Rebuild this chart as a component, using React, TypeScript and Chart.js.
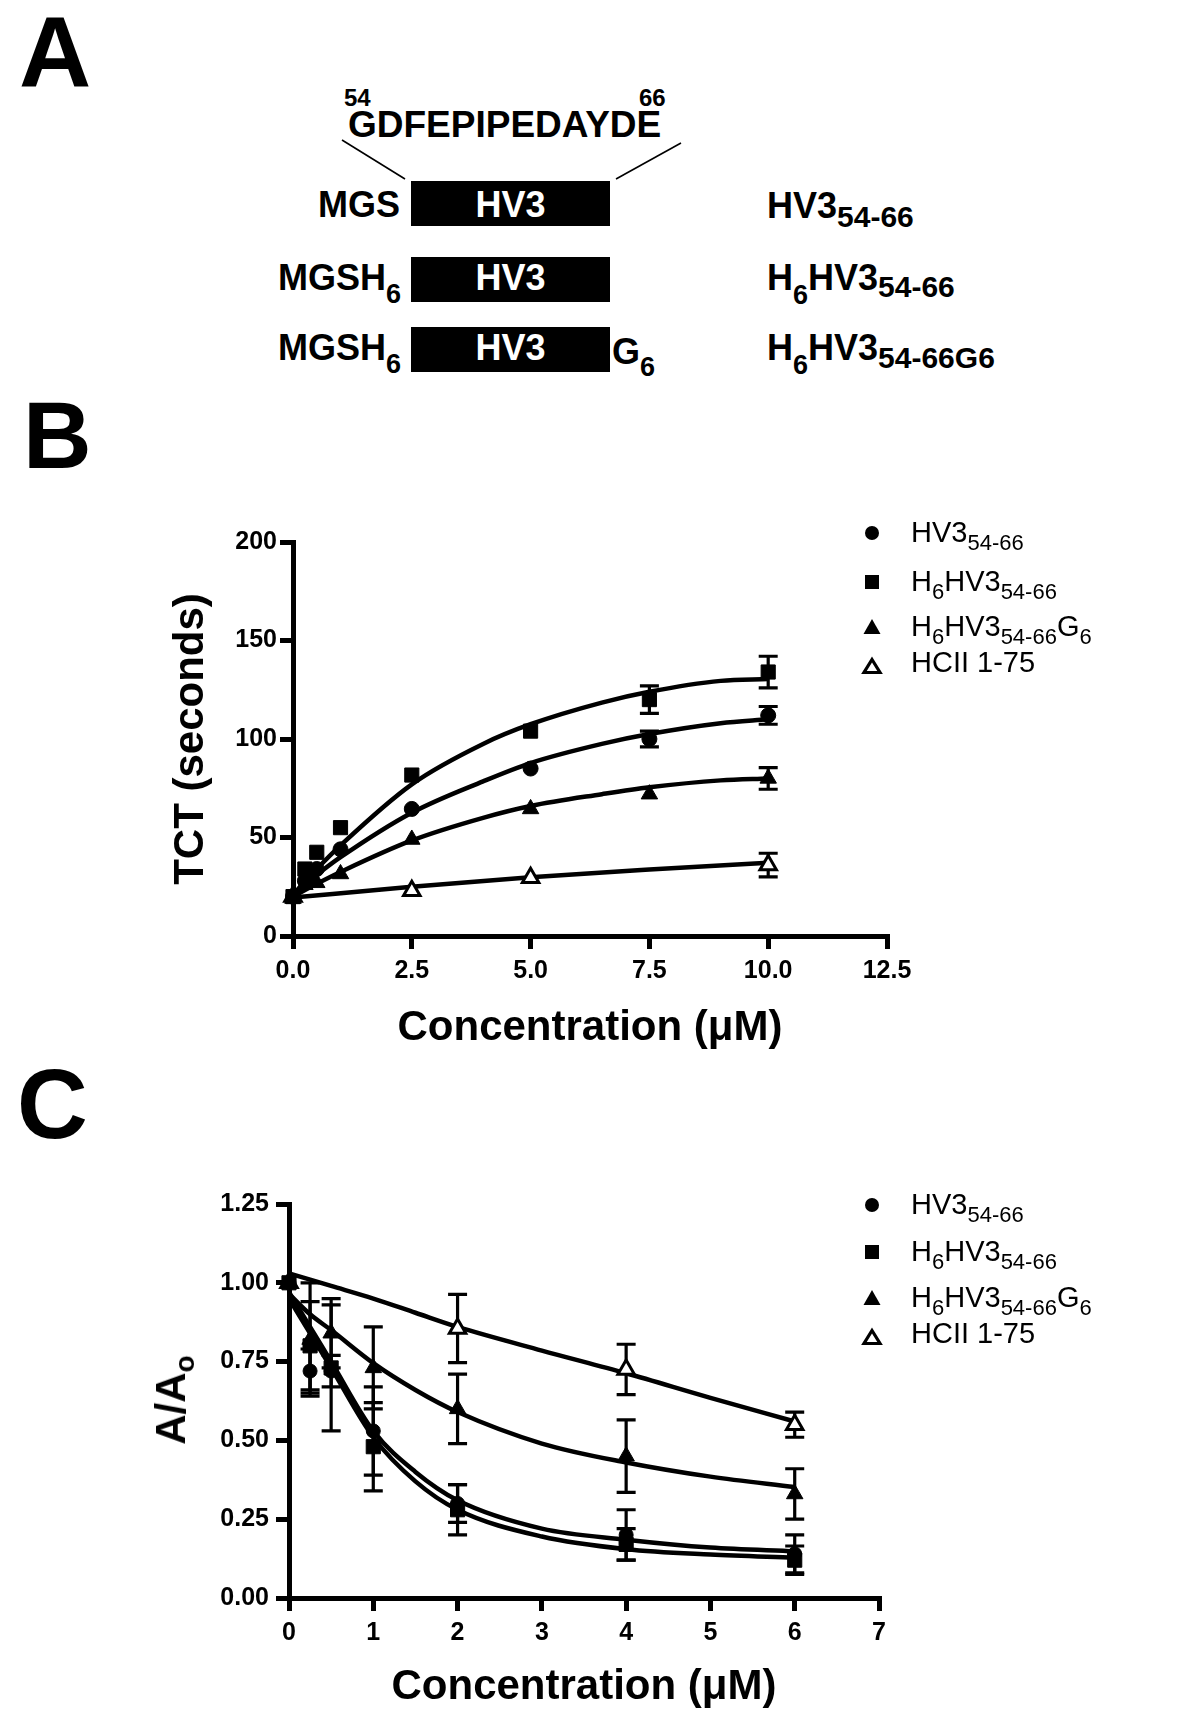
import React, { useEffect, useRef } from 'react';
import { Chart, registerables } from 'chart.js';

Chart.register(...registerables);

const FONT = "'Liberation Sans', Arial, Helvetica, sans-serif";

// ---------- Panel B: thrombin clotting time ----------
const B_SERIES = ['HV3 54-66', 'H6HV3 54-66', 'H6HV3 54-66 G6', 'HCII 1-75'];
const B_X = [0, 0.25, 0.5, 1, 2.5, 5, 7.5, 10];
const B_HV3 = [20, 28, 34, 44, 64.5, 85, 100, 112];
const B_HV3_ERR = [0, 0, 0, 0, 0, 0, 4, 4.5];
const B_H6 = [20, 34, 42.5, 55, 81.7, 104, 120, 134];
const B_H6_ERR = [0, 0, 0, 0, 0, 0, 7, 8];
const B_H6G6 = [19, 26, 27, 31.5, 49, 64.5, 72, 80];
const B_H6G6_ERR = [0, 0, 0, 0, 0, 0, 0, 5.5];
const B_HCII_X = [0, 2.5, 5, 10];
const B_HCII = [20, 23, 29.6, 36];
const B_HCII_ERR = [0, 0, 0, 6];
const B_FIT_X = [0, 0.5, 1, 2.5, 4, 5, 6.5, 7.5, 9, 10];
const B_FIT_H6 = [21, 34, 46, 77, 97.5, 107.5, 118.5, 124, 129.5, 130.5];
const B_FIT_HV3 = [21, 31, 40, 62.6, 78.5, 87.8, 97.5, 102.5, 108, 110];
const B_FIT_H6G6 = [20, 26.5, 32.5, 48.5, 60, 66, 72, 75.5, 79, 80];
const B_FIT_HCII_X = [0, 2.5, 5, 7.5, 10];
const B_FIT_HCII = [19.5, 25, 29.8, 33.7, 37.2];
const B_X_TICKS = { min: 0, max: 12.5, step: 2.5 };
const B_Y_TICKS = { min: 0, max: 200, step: 50 };

// ---------- Panel C: A/Ao ----------
const C_X = [0, 0.25, 0.5, 1, 2, 4, 6];
const C_HV3 = [1.0, 0.72, 0.72, 0.53, 0.3, 0.2, 0.14];
const C_HV3_ERR = [0, 0.07, 0.05, 0.14, 0.06, 0.08, 0.06];
const C_H6 = [1.0, 0.8, 0.73, 0.48, 0.28, 0.17, 0.12];
const C_H6_ERR = [0, 0.14, 0.2, 0.14, 0.08, 0.05, 0.045];
const C_H6G6 = [1.0, 0.82, 0.84, 0.73, 0.6, 0.45, 0.33];
const C_H6G6_ERR = [0, 0.18, 0.11, 0.13, 0.11, 0.115, 0.08];
const C_HCII_X = [0, 2, 4, 6];
const C_HCII = [1.0, 0.855, 0.725, 0.55];
const C_HCII_ERR = [0, 0.108, 0.08, 0.04];
const C_FIT_X = [0, 0.25, 0.5, 1, 1.5, 2, 3, 4, 5, 6];
const C_FIT_HV3 = [0.97, 0.86, 0.75, 0.53, 0.4, 0.31, 0.22, 0.185, 0.16, 0.148];
const C_FIT_H6 = [0.95, 0.84, 0.73, 0.51, 0.37, 0.28, 0.195, 0.155, 0.138, 0.128];
const C_FIT_H6G6 = [0.965, 0.9, 0.85, 0.745, 0.66, 0.59, 0.49, 0.43, 0.385, 0.352];
const C_FIT_HCII = [1.03, 1.01, 0.99, 0.95, 0.905, 0.86, 0.785, 0.713, 0.635, 0.56];
const C_X_TICKS = { min: 0, max: 7, step: 1 };
const C_Y_TICKS = { min: 0, max: 1.25, step: 0.25 };

const errorBarPlugin = {
  id: 'errorBars',
  beforeDatasetsDraw(chart: any) {
    const { ctx } = chart;
    const xs = chart.scales.x;
    const ys = chart.scales.y;
    ctx.save();
    ctx.strokeStyle = '#000';
    ctx.lineWidth = 3.2;
    chart.data.datasets.forEach((ds: any) => {
      if (!ds.errors) return;
      ds.data.forEach((p: any, j: number) => {
        const e = ds.errors[j];
        if (!e) return;
        const px = xs.getPixelForValue(p.x);
        const t = ys.getPixelForValue(p.y + e);
        const b = ys.getPixelForValue(p.y - e);
        ctx.beginPath();
        ctx.moveTo(px, t);
        ctx.lineTo(px, b);
        ctx.moveTo(px - 9.5, t);
        ctx.lineTo(px + 9.5, t);
        ctx.moveTo(px - 9.5, b);
        ctx.lineTo(px + 9.5, b);
        ctx.stroke();
      });
    });
    ctx.restore();
  },
};

type Mk = { name: string; x: number[]; y: number[]; err: number[]; style: string; radius: number; open?: boolean };
type Fit = { name: string; x: number[]; y: number[] };

function buildConfig(o: any) {
  const datasets: any[] = [];
  o.markers.forEach((m: Mk) =>
    datasets.push({
      label: m.name,
      data: m.x.map((xv, i) => ({ x: xv, y: m.y[i] })),
      errors: m.err,
      showLine: false,
      pointStyle: m.style,
      pointRadius: m.radius,
      pointBackgroundColor: m.open ? '#fff' : '#000',
      pointBorderColor: '#000',
      pointBorderWidth: m.open ? 3 : 1,
      clip: false,
    })
  );
  o.fits.forEach((f: Fit) =>
    datasets.push({
      label: f.name + ' fit',
      data: f.x.map((xv, i) => ({ x: xv, y: f.y[i] })),
      borderColor: '#000',
      borderWidth: 4.5,
      pointRadius: 0,
      fill: false,
      cubicInterpolationMode: 'monotone',
      clip: false,
    })
  );
  const tickFont = { family: FONT, size: 25, weight: 'bold' as const };
  const titleFont = { family: FONT, size: 42, weight: 'bold' as const };
  const grid = { display: true, drawOnChartArea: false, drawTicks: true, tickLength: 13, lineWidth: 5, color: '#000' };
  const border = { display: true, width: 5, color: '#000' };
  return {
    type: 'line' as const,
    data: { datasets },
    options: {
      responsive: false,
      animation: false as const,
      devicePixelRatio: 1,
      events: [],
      layout: { padding: { top: o.padTop, right: o.padRight, left: 0, bottom: 0 } },
      plugins: { legend: { display: false }, tooltip: { enabled: false } },
      scales: {
        x: {
          type: 'linear' as const,
          min: o.xt.min,
          max: o.xt.max,
          ticks: {
            stepSize: o.xt.step,
            callback: o.xFmt,
            color: '#000',
            font: tickFont,
            padding: 7,
            maxRotation: 0,
            autoSkip: false,
          },
          grid,
          border,
          title: { display: true, text: 'Concentration (\u03bcM)', color: '#000', font: titleFont, padding: { top: 0, bottom: o.xTitlePad } },
          afterFit: (s: any) => {
            s.height = o.xHeight;
          },
        },
        y: {
          type: 'linear' as const,
          min: o.yt.min,
          max: o.yt.max,
          ticks: {
            stepSize: o.yt.step,
            callback: o.yFmt,
            color: '#000',
            font: tickFont,
            padding: o.yTickPad,
            autoSkip: false,
          },
          grid,
          border,
          title: {
            display: !!o.yTitle,
            text: o.yTitle || '',
            color: '#000',
            font: titleFont,
            padding: { top: o.yTitlePad, bottom: 0 },
          },
          afterFit: (s: any) => {
            s.width = o.yWidth;
          },
        },
      },
    },
    plugins: [errorBarPlugin],
  };
}

function ChartCanvas({ top, height, make }: { top: number; height: number; make: () => any }) {
  const ref = useRef<HTMLCanvasElement>(null);
  useEffect(() => {
    const chart = new Chart(ref.current as HTMLCanvasElement, make());
    return () => chart.destroy();
  }, []);
  return (
    <canvas
      ref={ref}
      width={1200}
      height={height}
      style={{ position: 'absolute', left: 0, top, width: 1200, height }}
    />
  );
}

function T({
  x,
  y,
  size,
  bold = true,
  color = '#000',
  align = 'left',
  children,
}: {
  x: number;
  y: number;
  size: number;
  bold?: boolean;
  color?: string;
  align?: 'left' | 'right' | 'center';
  children: React.ReactNode;
}) {
  const style: React.CSSProperties = {
    position: 'absolute',
    top: y - 0.8465 * size,
    fontSize: size,
    lineHeight: 1,
    fontFamily: FONT,
    fontWeight: bold ? 700 : 400,
    color,
    whiteSpace: 'nowrap',
  };
  if (align === 'left') style.left = x;
  else if (align === 'right') style.right = 1200 - x;
  else {
    style.left = x;
    style.transform = 'translateX(-50%)';
  }
  return <div style={style}>{children}</div>;
}

function Sub({ size, dy, children }: { size: number; dy: number; children: React.ReactNode }) {
  return <span style={{ fontSize: size, position: 'relative', top: dy }}>{children}</span>;
}

function Marker({ cx, cy, kind }: { cx: number; cy: number; kind: string }) {
  let shape: React.ReactNode = null;
  if (kind === 'circle') shape = <circle cx={12} cy={12} r={7} fill="#000" />;
  if (kind === 'square') shape = <rect x={5} y={5} width={14} height={14} fill="#000" />;
  if (kind === 'tri') shape = <polygon points="12,4 20.5,19 3.5,19" fill="#000" />;
  if (kind === 'open')
    shape = <polygon points="12,5.5 20,18.5 4,18.5" fill="#fff" stroke="#000" strokeWidth={3.2} />;
  return (
    <svg style={{ position: 'absolute', left: cx - 12, top: cy - 12 }} width={24} height={24}>
      {shape}
    </svg>
  );
}

const LEG_SIZE = 29;
const LEG_SUB = 22;
function Legend({ rows, textDy }: { rows: number[]; textDy: number[] }) {
  const kinds = ['circle', 'square', 'tri', 'open'];
  const bl = (i: number) => rows[i] + 10 + textDy[i];
  return (
    <>
      {rows.map((r, i) => (
        <Marker key={i} cx={872} cy={r} kind={kinds[i]} />
      ))}
      <T x={911} y={bl(0)} size={LEG_SIZE} bold={false}>
        HV3<Sub size={LEG_SUB} dy={8}>54-66</Sub>
      </T>
      <T x={911} y={bl(1)} size={LEG_SIZE} bold={false}>
        H<Sub size={LEG_SUB} dy={8}>6</Sub>HV3<Sub size={LEG_SUB} dy={8}>54-66</Sub>
      </T>
      <T x={911} y={bl(2)} size={LEG_SIZE} bold={false}>
        H<Sub size={LEG_SUB} dy={8}>6</Sub>HV3<Sub size={LEG_SUB} dy={8}>54-66</Sub>G
        <Sub size={LEG_SUB} dy={8}>6</Sub>
      </T>
      <T x={911} y={bl(3)} size={LEG_SIZE} bold={false}>
        HCII 1-75
      </T>
    </>
  );
}

const BOX_TOPS = [181, 257, 327];
const ROW_BASE = [217, 290, 360];

function PanelA() {
  return (
    <>
      <T x={19} y={87} size={100}>
        A
      </T>
      <T x={344} y={106} size={24}>
        54
      </T>
      <T x={639} y={106} size={24}>
        66
      </T>
      <T x={348} y={137} size={37}>
        GDFEPIPEDAYDE
      </T>
      <svg style={{ position: 'absolute', left: 0, top: 0 }} width={1200} height={400}>
        <line x1={342} y1={140} x2={405} y2={179} stroke="#000" strokeWidth={1.6} />
        <line x1={681} y1={143} x2={616} y2={179} stroke="#000" strokeWidth={1.6} />
      </svg>
      {BOX_TOPS.map((t, i) => (
        <div key={i} style={{ position: 'absolute', left: 411, top: t, width: 199, height: 45, background: '#000' }} />
      ))}
      {ROW_BASE.map((b, i) => (
        <T key={'hv' + i} x={510.5} y={b} size={36} color="#fff" align="center">
          HV3
        </T>
      ))}
      <T x={400} y={ROW_BASE[0]} size={36} align="right">
        MGS
      </T>
      <T x={401} y={ROW_BASE[1]} size={36} align="right">
        MGSH<Sub size={27} dy={13}>6</Sub>
      </T>
      <T x={401} y={ROW_BASE[2]} size={36} align="right">
        MGSH<Sub size={27} dy={13}>6</Sub>
      </T>
      <T x={612} y={ROW_BASE[2] + 4} size={36}>
        G<Sub size={27} dy={12}>6</Sub>
      </T>
      <T x={767} y={ROW_BASE[0] + 1} size={36}>
        HV3<Sub size={30} dy={9}>54-66</Sub>
      </T>
      <T x={767} y={ROW_BASE[1]} size={36}>
        H<Sub size={27} dy={14}>6</Sub>HV3<Sub size={30} dy={7}>54-66</Sub>
      </T>
      <T x={767} y={ROW_BASE[2]} size={36}>
        H<Sub size={27} dy={14}>6</Sub>HV3<Sub size={30} dy={8}>54-66G6</Sub>
      </T>
    </>
  );
}

const makeB = () =>
  buildConfig({
    markers: [
      { name: B_SERIES[0], x: B_X, y: B_HV3, err: B_HV3_ERR, style: 'circle', radius: 7.5 },
      { name: B_SERIES[1], x: B_X, y: B_H6, err: B_H6_ERR, style: 'rect', radius: 10 },
      { name: B_SERIES[2], x: B_X, y: B_H6G6, err: B_H6G6_ERR, style: 'triangle', radius: 9.5 },
      { name: B_SERIES[3], x: B_HCII_X, y: B_HCII, err: B_HCII_ERR, style: 'triangle', radius: 9.5, open: true },
    ],
    fits: [
      { name: B_SERIES[0], x: B_FIT_X, y: B_FIT_HV3 },
      { name: B_SERIES[1], x: B_FIT_X, y: B_FIT_H6 },
      { name: B_SERIES[2], x: B_FIT_X, y: B_FIT_H6G6 },
      { name: B_SERIES[3], x: B_FIT_HCII_X, y: B_FIT_HCII },
    ],
    xt: B_X_TICKS,
    yt: B_Y_TICKS,
    xFmt: (v: number) => Number(v).toFixed(1),
    yFmt: (v: number) => String(v),
    padTop: 42,
    padRight: 313,
    yWidth: 293,
    xHeight: 124,
    xTitlePad: 6,
    yTitle: 'TCT (seconds)',
    yTitlePad: 166,
    yTickPad: 3,
  });

const makeC = () =>
  buildConfig({
    markers: [
      { name: B_SERIES[0], x: C_X, y: C_HV3, err: C_HV3_ERR, style: 'circle', radius: 7 },
      { name: B_SERIES[1], x: C_X, y: C_H6, err: C_H6_ERR, style: 'rect', radius: 10 },
      { name: B_SERIES[2], x: C_X, y: C_H6G6, err: C_H6G6_ERR, style: 'triangle', radius: 9.5 },
      { name: B_SERIES[3], x: C_HCII_X, y: C_HCII, err: C_HCII_ERR, style: 'triangle', radius: 9.5, open: true },
    ],
    fits: [
      { name: B_SERIES[0], x: C_FIT_X, y: C_FIT_HV3 },
      { name: B_SERIES[1], x: C_FIT_X, y: C_FIT_H6 },
      { name: B_SERIES[2], x: C_FIT_X, y: C_FIT_H6G6 },
      { name: B_SERIES[3], x: C_FIT_X, y: C_FIT_HCII },
    ],
    xt: C_X_TICKS,
    yt: C_Y_TICKS,
    xFmt: (v: number) => String(v),
    yFmt: (v: number) => Number(v).toFixed(2),
    padTop: 44,
    padRight: 321,
    yWidth: 289,
    xHeight: 117,
    xTitlePad: 2,
    yTitle: '',
    yTitlePad: 0,
    yTickPad: 7,
  });

export default function App() {
  return (
    <div
      style={{
        position: 'absolute',
        left: 0,
        top: 0,
        width: 1200,
        height: 1715,
        background: '#fff',
        overflow: 'hidden',
        fontFamily: FONT,
      }}
    >
      <PanelA />
      <T x={23} y={468} size={95}>
        B
      </T>
      <ChartCanvas top={500} height={560} make={makeB} />
      <Legend rows={[533, 582, 627, 666]} textDy={[0, 0, 0, -3]} />
      <T x={17} y={1138} size={98}>
        C
      </T>
      <ChartCanvas top={1160} height={555} make={makeC} />
      <div
        style={{
          position: 'absolute',
          left: 171,
          top: 1400,
          transform: 'translate(-50%, -50%) rotate(-90deg)',
          fontFamily: FONT,
          fontWeight: 700,
          fontSize: 42,
          lineHeight: 1,
          whiteSpace: 'nowrap',
          color: '#000',
        }}
      >
        A/A<Sub size={28} dy={9}>o</Sub>
      </div>
      <Legend rows={[1205, 1252, 1298, 1337]} textDy={[0, 0, 0, -3]} />
    </div>
  );
}
